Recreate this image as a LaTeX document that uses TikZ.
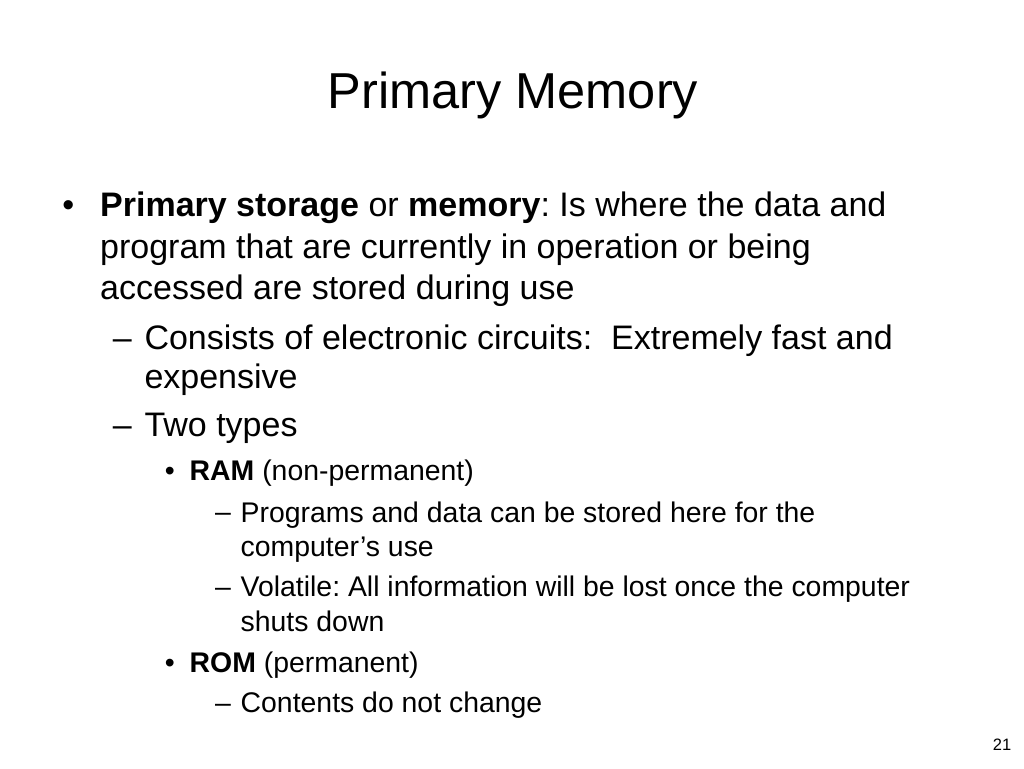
\documentclass[tikz,border=0pt]{standalone}
\usepackage{fontspec}
\setmainfont{Liberation Sans}
\frenchspacing
\usetikzlibrary{positioning}

\begin{document}
\begin{tikzpicture}[
      x=1pt,y=-1pt,
      txt/.style={inner sep=0pt,anchor=base west,align=left},
      lone/.style={txt,font=\fontsize{34}{41.3}\selectfont},
      ltwo/.style={txt,font=\fontsize{34}{39}\selectfont},
      lthree/.style={txt,font=\fontsize{28.4}{35}\selectfont},
      lfour/.style={txt,font=\fontsize{28.4}{34.5}\selectfont}
    ]
    \fill[white] (0,0) rectangle (1024,768);
    \useasboundingbox (0,0) rectangle (1024,768);
    \node[inner sep=0pt,anchor=base,font=\fontsize{50.5}{60}\selectfont] (title) at (513,108.5) {Primary Memory};

    \node[lone] (mkA) at (62.2,216.7) {•};
    \node[lone] (pA) at (100,299.3) {\textbf{Primary storage} or \textbf{memory}: Is where the data and\\program that are currently in operation or being\\accessed are stored during use};
    \node[ltwo] (mkB) at (112.7,349.3) {–};
    \node[ltwo] (pB) at (144.3,388.3) {Consists of electronic circuits:\ \ Extremely fast and\\expensive};
    \node[ltwo] (mkC) at (112.7,436.7) {–};
    \node[ltwo] (pC) at (144.3,436.7) {Two types};
    \node[lthree] (mkD) at (164.6,480.7) {•};
    \node[lthree] (pD) at (189.5,480.7) {\textbf{RAM} (non-permanent)};
    \node[lfour] (mkE) at (215,521.7) {–};
    \node[lfour] (pE) at (240.5,556.5) {Programs and data can be stored here for the\\computer’s use};
    \node[lfour] (mkF) at (215,596.7) {–};
    \node[lfour] (pF) at (240.5,631) {Volatile: All information will be lost once the computer\\shuts down};
    \node[lthree] (mkG) at (164.6,672.7) {•};
    \node[lthree] (pG) at (189.5,672.7) {\textbf{ROM} (permanent)};
    \node[lfour] (mkH) at (215,712.7) {–};
    \node[lfour] (pH) at (240.5,712.7) {Contents do not change};

    \node[inner sep=0pt,anchor=base east,font=\fontsize{16.5}{20}\selectfont] (num) at (1011.5,750.7) {21};
  \end{tikzpicture}
\end{document}
